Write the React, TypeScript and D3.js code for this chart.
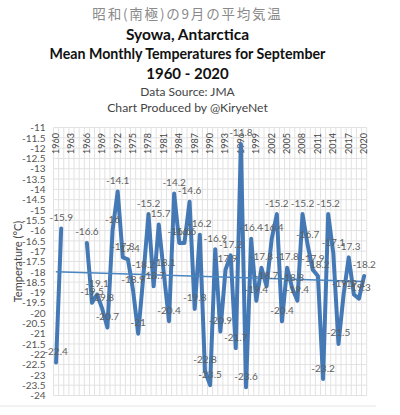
import { useEffect, useRef } from 'react';
import * as d3 from 'd3';

const years = d3.range(1960, 2021);
// September means, null where the record has a gap
const temps: Array<number | null> = [
  -22.4, -15.9, null, null, null, null, -16.6, -19.5, -19.1, -19.8,
  -20.7, -16, -14.1, -17.3, -17.4, -18.9, -21, -18.2, -15.2, -18.7,
  -15.7, -18.1, -20.4, -14.2, -16.6, -16.6, -14.6, -19.8, -16.2, -22.8,
  -23.5, -16.9, -20.9, -17.9, -17.2, -21.7, -11.8, -23.6, -16.4, -19.4,
  -17.8, -18.7, -16.4, -15.2, -20.4, -17.8, -18.8, -19.4, -15.2, -16.7,
  -17.9, -18.2, -23.2, -15.2, -17.1, -21.5, -19.1, -17.3, -19.1, -19.3,
  -18.2,
];
const trendEnds = [-18.0, -18.47];
const yTicks = d3.range(-24, -10.5, 0.5);
const xTickYears = years.filter((y) => (y - 1960) % 3 === 0);
const titles = [
  { text: '昭和(南極)の9月の平均気温', y: 14, size: 13.5, weight: 400, fill: '#8a8a8a', font: '"Noto Sans CJK JP"', spacing: 1.8 },
  { text: 'Syowa, Antarctica', y: 35, size: 15.5, weight: 700, fill: '#111', font: 'Lato', spacing: 0 },
  { text: 'Mean Monthly Temperatures for September', y: 54, size: 14.2, weight: 700, fill: '#111', font: 'Lato', spacing: 0 },
  { text: '1960 - 2020', y: 74, size: 15, weight: 700, fill: '#111', font: 'Lato', spacing: 0 },
  { text: 'Data Source: JMA', y: 92, size: 12, weight: 400, fill: '#444', font: 'Lato', spacing: 0 },
  { text: 'Chart Produced by @KiryeNet', y: 108, size: 12.2, weight: 400, fill: '#444', font: 'Lato', spacing: 0 },
];

const width = 400;
const height = 415;
const left = 53.5;
const right = 366.7;
const top = 127.5;
const bottom = 395.5;

export default function App() {
  const svgRef = useRef<SVGSVGElement>(null);

  useEffect(() => {
    if (!svgRef.current) return;
    const svg = d3.select(svgRef.current);
    svg.selectAll('*').remove();

    const x = d3.scaleBand<number>().domain(years).range([left, right]);
    const y = d3.scaleLinear().domain([-24, -11]).range([bottom, top]);
    const cx = (d: number) => x(d)! + x.bandwidth() / 2;

    svg.selectAll('.title')
      .data(titles)
      .enter()
      .append('text')
      .attr('x', 187.5)
      .attr('y', (d) => d.y)
      .attr('dy', '0.35em')
      .attr('text-anchor', 'middle')
      .attr('font-family', (d) => d.font)
      .attr('font-size', (d) => d.size)
      .attr('font-weight', (d) => d.weight)
      .attr('letter-spacing', (d) => d.spacing)
      .attr('fill', (d) => d.fill)
      .text((d) => d.text);

    // Grid lines
    svg.selectAll('.grid-h')
      .data(yTicks)
      .enter()
      .append('line')
      .attr('x1', left)
      .attr('x2', right)
      .attr('y1', (d) => y(d))
      .attr('y2', (d) => y(d))
      .attr('stroke', '#e2e2e2')
      .attr('stroke-width', 1);
    svg.selectAll('.grid-v')
      .data([...years, 2021])
      .enter()
      .append('line')
      .attr('x1', (d) => (d === 2021 ? right : x(d)!))
      .attr('x2', (d) => (d === 2021 ? right : x(d)!))
      .attr('y1', top)
      .attr('y2', bottom)
      .attr('stroke', '#e2e2e2')
      .attr('stroke-width', 1);

    // Y axis
    const yAxis = svg.append('g')
      .attr('transform', `translate(${left},0)`)
      .call(d3.axisLeft(y).tickValues(yTicks).tickSize(0).tickPadding(8).tickFormat((d) => String(d)));
    yAxis.select('.domain').remove();
    yAxis.selectAll('text')
      .attr('font-family', 'Lato')
      .attr('font-size', 10)
      .attr('fill', '#555');

    // Year labels sit inside the plot along its top edge
    const xAxis = svg.append('g')
      .attr('transform', `translate(0,${top})`)
      .call(d3.axisTop(x).tickValues(xTickYears).tickSize(0));
    xAxis.select('.domain').remove();
    xAxis.selectAll('text')
      .attr('font-family', 'Lato')
      .attr('font-size', 9)
      .attr('fill', '#444')
      .attr('text-anchor', 'end')
      .attr('dy', '0.32em')
      .attr('transform', 'rotate(-90)')
      .attr('x', -5.5)
      .attr('y', 0);

    svg.append('text')
      .attr('transform', `translate(18,261.5) rotate(-90)`)
      .attr('text-anchor', 'middle')
      .attr('dy', '0.35em')
      .attr('font-family', 'Lato')
      .attr('font-size', 11)
      .attr('fill', '#444')
      .text('Temperature (°C)');

    // Series
    const line = d3.line<number | null>()
      .defined((d) => d !== null)
      .x((_, i) => cx(years[i]))
      .y((d) => y(d as number));
    svg.append('path')
      .datum(temps)
      .attr('fill', 'none')
      .attr('stroke', '#4479b5')
      .attr('stroke-width', 4)
      .attr('stroke-linejoin', 'round')
      .attr('stroke-linecap', 'round')
      .attr('d', line);

    // Linear trend
    svg.append('line')
      .attr('x1', cx(years[0]))
      .attr('x2', cx(years[years.length - 1]))
      .attr('y1', y(trendEnds[0]))
      .attr('y2', y(trendEnds[1]))
      .attr('stroke', '#4a86c0')
      .attr('stroke-width', 1.4);

    // Data labels
    svg.selectAll('.point-label')
      .data(temps.map((value, i) => ({ value, year: years[i] })).filter((d) => d.value !== null))
      .enter()
      .append('text')
      .attr('x', (d) => cx(d.year))
      .attr('y', (d) => y(d.value as number) - 11)
      .attr('dy', '0.35em')
      .attr('text-anchor', 'middle')
      .attr('font-family', 'Lato')
      .attr('font-size', 10)
      .attr('fill', '#5f5f5f')
      .text((d) => String(d.value));

    // Chart frame edge below the plot
    svg.append('line')
      .attr('x1', 0)
      .attr('x2', 376)
      .attr('y1', 406)
      .attr('y2', 406)
      .attr('stroke', '#e4e4e4')
      .attr('stroke-width', 1);
  }, []);

  return (
    <svg
      ref={svgRef}
      width={width}
      height={height}
      style={{ position: 'absolute', left: 0, top: 0, display: 'block', background: '#fff' }}
    />
  );
}
